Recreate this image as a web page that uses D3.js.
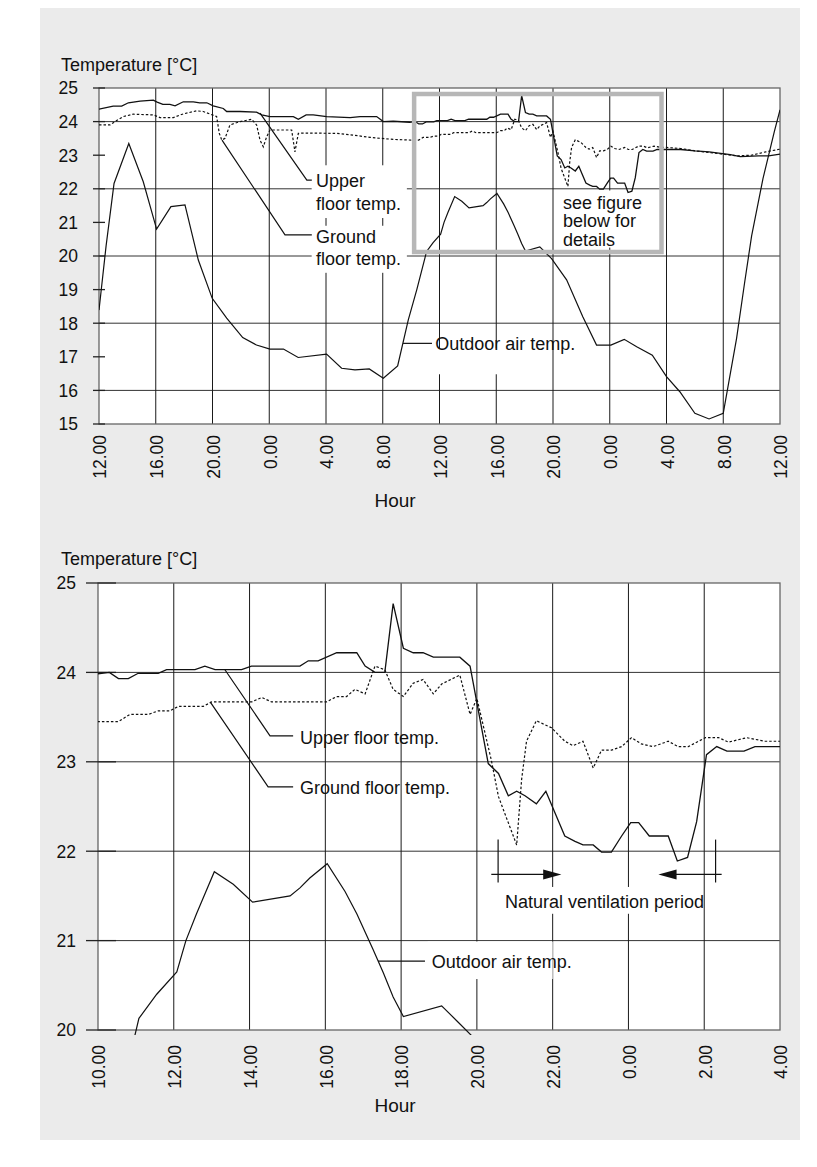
<!DOCTYPE html>
<html>
<head>
<meta charset="utf-8">
<script src="https://cdn.jsdelivr.net/npm/d3@7"></script>
<style>
  body { margin: 0; background: #fff; }
  svg text { font-family: "Liberation Sans", Arial, Helvetica, sans-serif; fill: #111; }
</style>
</head>
<body>
<svg id="chart" width="817" height="1167"></svg>
<script>
// hours counted from 12.00 on day 1 (0) to 12.00 on day 3 (48)
var upperFloor = [
  [0,24.37],[1.0,24.46],[1.6,24.46],[2.07,24.56],[2.9,24.61],[3.83,24.64],[4.1,24.58],[4.5,24.51],
  [5.0,24.51],[5.36,24.47],[5.94,24.59],[6.65,24.59],[7.1,24.56],[7.6,24.56],[8.05,24.47],[8.76,24.39],
  [9.0,24.3],[9.94,24.3],[11.1,24.28],[11.47,24.2],[12.05,24.15],[13.7,24.15],[14.05,24.07],[14.6,24.2],
  [15.1,24.2],[16.05,24.15],[17.7,24.12],[18.4,24.15],[19.57,24.15],[20.04,24.0],[20.74,24.01],[21.9,23.98],
  [22.3,24.0],[22.54,23.93],[22.8,23.93],[23.06,23.99],[23.59,23.99],[23.81,24.03],[24.56,24.03],[24.82,24.07],
  [25.09,24.03],[25.79,24.03],[26.05,24.07],[27.33,24.07],[27.55,24.13],[27.81,24.13],[28.3,24.22],[28.83,24.22],
  [29.05,24.07],[29.31,24.0],[29.57,24.0],[29.79,24.77],[30.06,24.27],[30.32,24.22],[30.58,24.22],[30.85,24.17],
  [31.55,24.17],[31.82,24.07],[32.3,22.98],[32.57,22.87],[32.83,22.62],[33.05,22.67],[33.27,22.62],[33.57,22.53],
  [33.82,22.67],[34.32,22.17],[34.59,22.11],[34.8,22.07],[35.07,22.07],[35.29,21.99],[35.55,21.99],[35.82,22.17],
  [36.06,22.32],[36.27,22.32],[36.55,22.17],[37.05,22.17],[37.29,21.89],[37.56,21.93],[37.8,22.33],[38.06,23.08],
  [38.33,23.17],[38.6,23.12],[39.05,23.12],[39.34,23.17],[40,23.17],[41,23.17],[42,23.13],[43,23.1],
  [44.5,23.02],[45.2,22.96],[46.5,22.98],[47.2,22.98],[48,23.03]
];

var groundFloor = [
  [0,23.9],[0.78,23.9],[1.13,24.0],[1.71,24.15],[2.42,24.22],[3.83,24.2],[4.3,24.12],[5.24,24.12],
  [5.94,24.23],[6.88,24.32],[7.35,24.3],[8.29,24.15],[8.48,23.65],[8.65,23.45],[8.88,23.5],[9.23,23.9],
  [9.94,24.0],[10.76,24.07],[11.11,23.9],[11.35,23.45],[11.58,23.25],[11.82,23.55],[12.05,23.75],[13.58,23.75],
  [13.81,23.1],[14.05,23.65],[14.4,23.66],[16.75,23.65],[17.9,23.6],[19.1,23.53],[20.74,23.47],[22,23.45],
  [22.54,23.45],[22.84,23.53],[23.33,23.53],[23.59,23.57],[23.9,23.57],[24.12,23.62],[24.78,23.62],[25.0,23.67],
  [26.06,23.67],[26.32,23.72],[26.58,23.67],[28.03,23.67],[28.3,23.73],[28.56,23.73],[28.78,23.81],[29.05,23.76],
  [29.31,24.07],[29.57,24.03],[29.79,23.81],[30.06,23.73],[30.32,23.88],[30.58,23.92],[30.85,23.76],[31.07,23.87],
  [31.55,23.97],[31.82,23.53],[32.0,23.71],[32.38,23.02],[32.57,22.61],[33.05,22.07],[33.18,22.8],[33.31,23.23],
  [33.57,23.46],[33.97,23.38],[34.32,23.23],[34.54,23.18],[34.8,23.23],[35.07,22.93],[35.29,23.13],[35.55,23.13],
  [35.82,23.17],[36.08,23.27],[36.34,23.2],[36.65,23.17],[37.05,23.23],[37.31,23.17],[37.58,23.17],[38.03,23.27],
  [38.38,23.27],[38.64,23.22],[39.12,23.27],[39.6,23.23],[40,23.23],[41,23.2],[42,23.13],[43,23.08],
  [44,23.03],[45,22.98],[46,23.0],[47,23.1],[48,23.18]
];

var outdoorAir = [
  [0,18.39],[0.5,20.3],[1.06,22.16],[2.1,23.35],[3.12,22.21],[4.06,20.8],[5.07,21.47],[6.06,21.52],
  [7.0,19.88],[7.98,18.74],[9.0,18.15],[10.13,17.57],[11.1,17.35],[12.05,17.23],[13.0,17.23],[14.04,16.98],
  [16.04,17.08],[17.1,16.66],[18.04,16.61],[19.05,16.64],[20.04,16.36],[21.05,16.73],[21.8,18.1],[22.4,19.0],
  [22.98,19.95],[23.08,20.13],[23.55,20.4],[24.08,20.65],[24.32,21.0],[24.6,21.3],[25.07,21.77],[25.57,21.63],
  [26.08,21.43],[27.07,21.5],[27.33,21.59],[27.59,21.7],[28.05,21.86],[28.52,21.55],[28.83,21.3],[29.26,20.9],
  [29.53,20.64],[29.79,20.37],[30.06,20.15],[31.07,20.27],[31.5,20.09],[31.9,19.92],[32.96,19.29],[34.1,18.19],
  [35.07,17.35],[36.08,17.35],[37.02,17.52],[37.9,17.3],[39.0,17.05],[40.0,16.41],[40.94,15.96],[42.0,15.32],
  [43.0,15.15],[44.0,15.32],[44.94,17.55],[45.5,19.19],[46.0,20.6],[46.8,22.3],[47.6,23.7],[48,24.35]
];

var overviewHours = d3.range(0, 49, 4);     // 12.00 ... 12.00
var detailHours = d3.range(22, 41, 2);      // 10.00 ... 4.00
var overviewTemps = d3.range(15, 26, 1);
var detailTemps = d3.range(20, 26, 1);

function hourLabel(t){ return ((12 + t) % 24) + ".00"; }

var svg = d3.select("#chart");

svg.append("rect")
  .attr("x", 40).attr("y", 8)
  .attr("width", 760).attr("height", 1132)
  .attr("fill", "#ebebeb");

// ---------- top chart ----------
var topX = d3.scaleLinear().domain([0,48]).range([99,780]);
var topY = d3.scaleLinear().domain([15,25]).range([424,88]);

// ---------- bottom chart ----------
var botX = d3.scaleLinear().domain([22,40]).range([98,780]);
var botY = d3.scaleLinear().domain([20,25]).range([1030,583]);

function drawChart(cfg){
  var x = cfg.x, y = cfg.y;
  var x0 = x.range()[0], x1 = x.range()[1];
  var y0 = y.range()[0], y1 = y.range()[1];
  var g = svg.append("g");

  g.append("rect")
    .attr("x", x0).attr("y", y1)
    .attr("width", x1 - x0).attr("height", y0 - y1)
    .attr("fill", "#fff");

  // horizontal grid
  g.selectAll(".hgrid")
    .data(cfg.gridTemps)
    .enter().append("line")
    .attr("x1", x0).attr("x2", x1)
    .attr("y1", function(d){ return y(d); })
    .attr("y2", function(d){ return y(d); })
    .attr("stroke", "#333").attr("stroke-width", 1);

  // vertical grid
  g.selectAll(".vgrid")
    .data(cfg.hours.slice(1, -1))
    .enter().append("line")
    .attr("x1", function(d){ return x(d); })
    .attr("x2", function(d){ return x(d); })
    .attr("y1", y1).attr("y2", y0)
    .attr("stroke", "#1a1a1a").attr("stroke-width", 1);

  // white boxes behind the labels
  cfg.boxes.forEach(function(b){
    g.append("rect")
      .attr("x", x(b[0])).attr("y", y(b[1]))
      .attr("width", x(b[2]) - x(b[0]))
      .attr("height", y(b[3]) - y(b[1]))
      .attr("fill", "#fff");
  });

  // frame
  g.append("rect")
    .attr("x", x0).attr("y", y1)
    .attr("width", x1 - x0).attr("height", y0 - y1)
    .attr("fill", "none").attr("stroke", "#666").attr("stroke-width", 1.3);

  // y ticks + labels
  g.selectAll(".ytick")
    .data(cfg.temps)
    .enter().append("line")
    .attr("x1", x0 - cfg.tickIn).attr("x2", x0 + cfg.tickOut)
    .attr("y1", function(d){ return y(d); })
    .attr("y2", function(d){ return y(d); })
    .attr("stroke", "#222").attr("stroke-width", 1.3);

  g.selectAll(".ylab")
    .data(cfg.temps)
    .enter().append("text")
    .attr("x", x0 - cfg.labelGap)
    .attr("y", function(d){ return y(d); })
    .attr("dy", "0.36em")
    .attr("text-anchor", "end")
    .style("font-size", "17.5px")
    .text(function(d){ return d; });

  // x labels, rotated
  g.selectAll(".xlab")
    .data(cfg.hours)
    .enter().append("text")
    .attr("transform", function(d){
      return "translate(" + (x(d) + 1) + "," + (y0 + cfg.xLabelGap) + ") rotate(-90)";
    })
    .attr("dy", "0.36em")
    .attr("text-anchor", "end")
    .style("font-size", "17.5px")
    .text(hourLabel);

  g.append("text")
    .attr("x", 61).attr("y", cfg.titleY)
    .style("font-size", "18px")
    .text("Temperature [\u00B0C]");

  g.append("text")
    .attr("x", 395).attr("y", cfg.hourY)
    .attr("text-anchor", "middle")
    .style("font-size", "19px")
    .text("Hour");

  // data
  var clipId = "clip" + cfg.name;
  svg.append("clipPath").attr("id", clipId)
    .append("rect")
    .attr("x", x0).attr("y", y1)
    .attr("width", x1 - x0).attr("height", y0 - y1 + 5);

  var line = d3.line()
    .x(function(d){ return x(d[0]); })
    .y(function(d){ return y(d[1]); });

  var dataG = g.append("g").attr("clip-path", "url(#" + clipId + ")");

  dataG.append("path").datum(outdoorAir)
    .attr("d", line).attr("fill", "none")
    .attr("stroke", "#111").attr("stroke-width", 1.2);

  dataG.append("path").datum(groundFloor)
    .attr("d", line).attr("fill", "none")
    .attr("stroke", "#111").attr("stroke-width", 1.2)
    .attr("stroke-dasharray", "2.5,2");

  dataG.append("path").datum(upperFloor)
    .attr("d", line).attr("fill", "none")
    .attr("stroke", "#111").attr("stroke-width", 1.3);

  // leaders
  var leader = d3.line()
    .x(function(d){ return x(d[0]); })
    .y(function(d){ return y(d[1]); });
  cfg.leaders.forEach(function(l){
    g.append("path").datum(l)
      .attr("d", leader).attr("fill", "none")
      .attr("stroke", "#111").attr("stroke-width", 1.2);
  });

  cfg.labels.forEach(function(lb){
    var t = g.append("text")
      .attr("x", x(lb.at[0])).attr("y", y(lb.at[1]))
      .attr("text-anchor", lb.anchor || "start")
      .style("font-size", "18px");
    lb.lines.forEach(function(s, i){
      t.append("tspan")
        .attr("x", x(lb.at[0]))
        .attr("dy", i == 0 ? 0 : lb.step)
        .text(s);
    });
  });

  return g;
}

var topG = drawChart({
  name: "Top", x: topX, y: topY,
  hours: overviewHours, temps: overviewTemps, gridTemps: [16,18,20,22,24],
  tickIn: 6, tickOut: 6, labelGap: 21, xLabelGap: 11,
  titleY: 71, hourY: 507,
  boxes: [
    [14.99, 22.7, 21.7, 21.13],
    [14.99, 20.9, 21.7, 19.5],
    [23.4, 17.25, 31.4, 16.48],
    [32.55, 21.95, 39.9, 20.25]
  ],
  leaders: [
    [[11.35,24.25],[14.65,22.26],[15.0,22.26]],
    [[8.67,23.45],[13.11,20.63],[15.0,20.63]],
    [[21.43,17.4],[23.47,17.4]]
  ],
  labels: [
    {at:[15.3,22.05], lines:["Upper","floor temp."], step:23},
    {at:[15.3,20.39], lines:["Ground","floor temp."], step:22},
    {at:[23.7,17.2], lines:["Outdoor air temp."], step:0},
    {at:[32.7,21.4], lines:["see figure","below for","details"], step:18.4}
  ]
});

// gray "see figure below" frame around the detail window
topG.append("rect")
  .attr("x", topX(22) + 3).attr("y", topY(25) + 6)
  .attr("width", topX(40) - topX(22) - 8)
  .attr("height", topY(20) - topY(25) - 10)
  .attr("fill", "none")
  .attr("stroke", "#b7b7b7").attr("stroke-width", 4.5);

var botG = drawChart({
  name: "Bottom", x: botX, y: botY,
  hours: detailHours, temps: detailTemps, gridTemps: [21,22,23,24],
  tickIn: 12, tickOut: 18, labelGap: 22, xLabelGap: 15,
  titleY: 565, hourY: 1112,
  boxes: [
    [32.05, 21.6, 37.4, 21.3],
    [30.7, 20.99, 34.0, 20.57]
  ],
  leaders: [
    [[25.35,24.03],[26.54,23.29],[27.15,23.29]],
    [[24.96,23.67],[26.49,22.72],[27.15,22.72]],
    [[29.39,20.77],[30.63,20.77]],
    [[32.56,22.13],[32.56,21.65]],
    [[38.3,22.13],[38.3,21.65]],
    [[32.38,21.74],[33.8,21.74]],
    [[38.46,21.74],[37.2,21.74]]
  ],
  labels: [
    {at:[27.33,23.2], lines:["Upper floor temp."], step:0},
    {at:[27.33,22.64], lines:["Ground floor temp."], step:0},
    {at:[30.81,20.69], lines:["Outdoor air temp."], step:0},
    {at:[35.37,21.36], lines:["Natural ventilation period"], step:0, anchor:"middle"}
  ]
});

// arrow heads of the ventilation period marks
var heads = [[34.23, 33.75, 21.74], [36.79, 37.27, 21.74]];
heads.forEach(function(h){
  var tipX = botX(h[0]), baseX = botX(h[1]), cy = botY(h[2]);
  botG.append("path")
    .attr("d", "M" + tipX + "," + cy + "L" + baseX + "," + (cy - 5) + "L" + baseX + "," + (cy + 5) + "Z")
    .attr("fill", "#111");
});
</script>
</body>
</html>
